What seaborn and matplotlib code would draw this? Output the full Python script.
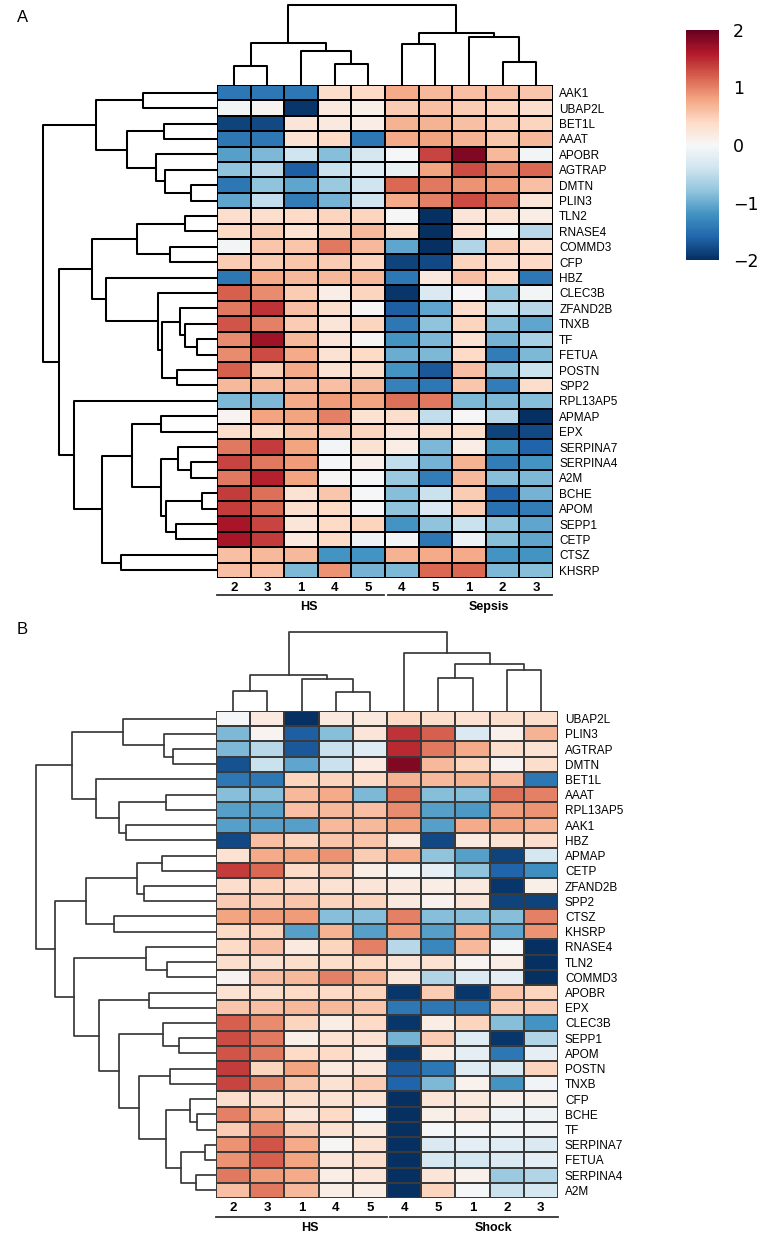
import numpy as np
import pandas as pd
import matplotlib
matplotlib.use('Agg')
import matplotlib.pyplot as plt
import matplotlib.transforms as mtransforms
import seaborn as sns

plt.rcParams['font.family'] = ['Liberation Sans', 'DejaVu Sans']

samples = ['2', '3', '1', '4', '5', '4', '5', '1', '2', '3']

genes_a = ['AAK1', 'UBAP2L', 'BET1L', 'AAAT', 'APOBR', 'AGTRAP', 'DMTN', 'PLIN3',
           'TLN2', 'RNASE4', 'COMMD3', 'CFP', 'HBZ', 'CLEC3B', 'ZFAND2B', 'TNXB',
           'TF', 'FETUA', 'POSTN', 'SPP2', 'RPL13AP5', 'APMAP', 'EPX', 'SERPINA7',
           'SERPINA4', 'A2M', 'BCHE', 'APOM', 'SEPP1', 'CETP', 'CTSZ', 'KHSRP']

z_a = [
    [-1.45, -1.45, -1.45, 0.35, 0.4, 0.75, 0.65, 0.6, 0.6, 0.55],
    [-0.05, 0.05, -1.95, 0.2, 0.12, 0.5, 0.6, 0.5, 0.45, 0.35],
    [-1.85, -1.8, 0.25, 0.2, 0.15, 0.7, 0.7, 0.6, 0.5, 0.45],
    [-1.45, -1.45, 0.3, 0.4, -1.45, 0.75, 0.8, 0.7, 0.55, 0.65],
    [-1.1, -0.9, -0.4, -0.85, -0.35, -0.02, 1.35, 1.85, 0.65, -0.05],
    [-0.8, -0.55, -1.65, -0.45, -0.25, -0.15, 0.8, 1.3, 0.95, 1.15],
    [-1.45, -0.8, -1.05, -0.75, -0.4, 1.15, 1.05, 0.9, 0.85, 0.6],
    [-1.05, -0.5, -1.4, -0.95, -0.4, 0.75, 1.0, 1.3, 1.05, 0.25],
    [0.35, 0.35, 0.4, 0.45, 0.45, 0.0, -2.0, 0.25, 0.3, 0.15],
    [0.4, 0.5, 0.3, 0.45, 0.65, 0.35, -2.0, 0.3, -0.05, -0.55],
    [-0.05, 0.55, 0.55, 1.05, 0.65, -1.05, -2.0, -0.6, 0.5, 0.35],
    [0.5, 0.5, 0.55, 0.5, 0.45, -1.85, -1.8, 0.45, 0.35, 0.4],
    [-1.45, 0.75, 0.65, 0.65, 0.65, -1.45, 0.2, 0.6, 0.4, -1.45],
    [1.2, 0.95, 0.5, 0.15, 0.45, -1.95, -0.3, 0.0, -0.8, -0.05],
    [1.05, 1.45, 0.6, 0.35, 0.02, -1.65, -1.05, 0.35, -0.5, -0.55],
    [1.25, 1.0, 0.5, 0.25, 0.45, -1.45, -0.8, 0.45, -0.85, -1.05],
    [0.95, 1.7, 0.65, 0.25, 0.03, -1.2, -0.9, 0.3, -0.95, -0.65],
    [0.95, 1.3, 0.75, 0.3, 0.4, -1.0, -0.9, 0.4, -1.4, -0.9],
    [1.2, 0.5, 0.75, 0.3, 0.35, -1.2, -1.7, 0.6, -0.8, -0.45],
    [0.65, 0.65, 0.65, 0.6, 0.65, -1.35, -1.45, 0.55, -1.4, 0.35],
    [-0.9, -0.9, 0.75, 0.85, 0.8, 1.1, 1.05, -0.9, -0.9, -0.85],
    [0.05, 0.8, 0.8, 1.0, 0.3, 0.35, -0.5, 0.0, -0.55, -2.0],
    [0.35, 0.4, 0.55, 0.5, 0.45, 0.25, 0.35, 0.35, -1.85, -1.8],
    [1.05, 1.4, 0.8, -0.05, 0.3, 0.15, -0.9, 0.15, -1.2, -1.6],
    [1.35, 1.05, 0.85, -0.02, 0.1, -0.5, -0.95, 0.7, -1.4, -1.2],
    [1.05, 1.55, 0.8, 0.02, -0.02, -0.75, -1.4, 0.65, -0.85, -0.9],
    [1.4, 1.1, 0.3, 0.55, -0.02, -0.85, -0.45, 0.5, -1.6, -0.95],
    [1.4, 1.15, 0.35, 0.4, 0.0, -0.8, -0.3, 0.5, -1.5, -1.4],
    [1.65, 1.35, 0.25, 0.4, 0.45, -1.2, -0.8, -0.45, -0.8, -1.05],
    [1.65, 1.4, 0.2, 0.4, -0.12, -0.05, -1.45, -0.1, -0.85, -1.05],
    [0.6, 0.65, 0.65, -1.2, -1.2, 0.7, 0.75, 0.75, -1.2, -1.2],
    [0.6, 0.6, -0.9, 0.9, -0.95, -0.9, 1.15, 1.15, -0.9, -0.85],
]

genes_b = ['UBAP2L', 'PLIN3', 'AGTRAP', 'DMTN', 'BET1L', 'AAAT', 'RPL13AP5', 'AAK1',
           'HBZ', 'APMAP', 'CETP', 'ZFAND2B', 'SPP2', 'CTSZ', 'KHSRP', 'RNASE4',
           'TLN2', 'COMMD3', 'APOBR', 'EPX', 'CLEC3B', 'SEPP1', 'APOM', 'POSTN',
           'TNXB', 'CFP', 'BCHE', 'TF', 'SERPINA7', 'FETUA', 'SERPINA4', 'A2M']

z_b = [
    [-0.03, 0.18, -2.0, 0.2, 0.2, 0.4, 0.35, 0.3, 0.35, 0.35],
    [-0.9, 0.05, -1.65, -0.85, 0.25, 1.45, 1.2, -0.3, 0.1, 0.7],
    [-0.9, -0.55, -1.7, -0.45, -0.25, 1.5, 1.05, 0.75, 0.35, 0.3],
    [-1.75, -0.45, -1.05, -0.45, 0.18, 1.85, 0.65, 0.45, 0.05, 0.35],
    [-1.45, -1.45, 0.45, 0.45, 0.4, 0.7, 0.65, 0.7, 0.65, -1.45],
    [-0.85, -0.85, 0.65, 0.75, -0.9, 1.1, -0.85, -0.85, 1.1, 1.0],
    [-1.1, -1.1, 0.6, 0.65, 0.6, 0.95, -1.1, -1.15, 0.85, 0.9],
    [-1.1, -1.1, -1.1, 0.65, 0.65, 0.8, -1.1, 0.75, 0.8, 0.7],
    [-1.8, 0.6, 0.45, 0.55, 0.55, 0.2, -1.8, 0.2, 0.3, 0.35],
    [0.3, 0.75, 0.8, 0.9, 0.5, 0.75, -0.8, -1.1, -1.85, -0.35],
    [1.4, 1.15, 0.4, 0.5, 0.15, 0.03, -0.2, -0.8, -1.6, -1.25],
    [0.35, 0.45, 0.35, 0.3, 0.25, 0.2, 0.15, 0.2, -1.95, 0.12],
    [0.5, 0.5, 0.55, 0.45, 0.45, 0.2, 0.08, 0.25, -1.85, -1.85],
    [0.8, 0.85, 0.85, -0.85, -0.85, 1.0, -0.85, -0.85, -0.85, 1.0],
    [0.4, 0.45, -1.1, 0.7, -1.1, 0.85, -1.1, 0.75, -1.05, 0.9],
    [0.4, 0.6, 0.2, 0.45, 1.0, -0.55, -1.3, 0.65, 0.0, -2.0],
    [0.35, 0.3, 0.35, 0.35, 0.4, 0.25, 0.3, 0.05, 0.15, -2.0],
    [0.05, 0.6, 0.65, 1.0, 0.7, 0.25, -0.6, -0.3, -0.2, -2.0],
    [0.3, 0.35, 0.4, 0.4, 0.45, -1.95, 0.5, -1.95, 0.55, 0.45],
    [0.55, 0.6, 0.65, 0.65, 0.55, -1.45, -1.45, -1.45, 0.5, 0.5],
    [1.2, 0.95, 0.45, 0.15, 0.4, -1.95, 0.15, 0.45, -0.85, -1.2],
    [1.3, 1.05, 0.12, 0.3, 0.3, -0.95, 0.5, -0.25, -1.95, -0.6],
    [1.25, 1.05, 0.4, 0.4, 0.15, -1.95, 0.15, -0.2, -1.45, -0.2],
    [1.4, 0.45, 0.8, 0.2, 0.25, -1.7, -1.45, -0.25, -0.3, 0.45],
    [1.35, 1.0, 0.55, 0.3, 0.5, -1.6, -0.9, 0.08, -1.2, -0.07],
    [0.35, 0.35, 0.35, 0.3, 0.3, -2.0, 0.25, 0.2, 0.1, 0.1],
    [1.0, 0.7, 0.25, 0.4, -0.02, -2.0, 0.12, 0.2, -0.1, -0.1],
    [0.5, 1.0, 0.5, 0.3, 0.2, -2.0, -0.03, -0.03, -0.05, -0.05],
    [0.9, 1.25, 0.75, 0.03, 0.3, -2.0, -0.3, -0.2, -0.25, -0.3],
    [0.9, 1.2, 0.8, 0.25, 0.35, -2.0, -0.35, -0.35, -0.3, -0.2],
    [1.05, 0.85, 0.75, 0.15, 0.25, -2.0, 0.25, 0.1, -0.75, -0.6],
    [0.6, 1.05, 0.65, 0.15, 0.15, -2.0, 0.45, -0.02, -0.45, -0.35],
]

# merges: (child a, child b, height); children >= n are earlier merges (n + k)
row_link_a = [(0, 1, 73.7), (2, 3, 52.7), (6, 7, 26.3), (5, 34, 52.3), (4, 35, 60.7),
              (33, 36, 90.0), (32, 37, 121.3), (8, 9, 31.7), (10, 11, 47.0), (39, 40, 80.3),
              (16, 17, 20.3), (15, 42, 32.0), (14, 43, 37.0), (18, 19, 40.3), (44, 45, 54.7),
              (13, 46, 59.0), (12, 47, 110.7), (41, 48, 125.0), (21, 22, 55.7), (24, 25, 25.7),
              (23, 51, 39.3), (26, 27, 14.7), (28, 29, 41.3), (53, 54, 51.0), (52, 55, 56.3),
              (50, 56, 85.3), (30, 31, 96.3), (57, 58, 115.3), (20, 59, 143.0), (49, 60, 158.0),
              (38, 61, 174.0)]
col_link_a = [(0, 1, 19.3), (3, 4, 20.7), (2, 11, 34.0), (10, 12, 42.3), (5, 6, 41.3),
              (8, 9, 23.3), (7, 15, 48.3), (14, 16, 51.7), (13, 17, 80.0)]

row_link_b = [(2, 3, 43.0), (1, 32, 52.0), (0, 33, 93.3), (5, 6, 50.3), (7, 8, 89.7),
              (35, 36, 97.3), (4, 37, 120.0), (34, 38, 143.3), (9, 10, 54.3), (11, 12, 71.7),
              (40, 41, 78.7), (13, 14, 102.0), (42, 43, 129.3), (16, 17, 49.3), (15, 45, 70.3),
              (18, 19, 66.7), (21, 22, 37.0), (20, 48, 52.7), (23, 24, 45.7), (26, 27, 18.7),
              (25, 51, 26.3), (28, 29, 11.3), (30, 31, 20.0), (53, 54, 34.7), (52, 55, 50.3),
              (50, 56, 76.7), (49, 57, 97.0), (47, 58, 116.7), (46, 59, 141.3), (44, 60, 160.7),
              (39, 61, 179.7)]
col_link_b = [(0, 1, 20.0), (3, 4, 18.7), (2, 11, 31.7), (10, 12, 36.0), (6, 7, 32.7),
              (8, 9, 40.7), (14, 15, 46.7), (5, 16, 58.7), (13, 17, 79.3)]

W, H = 782, 1239
fig = plt.figure(figsize=(W / 100, H / 100), dpi=100)


def px_axes(x0, y0, x1, y1):
    return fig.add_axes([x0 / W, 1 - y1 / H, (x1 - x0) / W, (y1 - y0) / H])


def draw_dendro(ax, links, n, orient, color, lw):
    pos = {i: i + 0.5 for i in range(n)}
    hgt = {i: 0.0 for i in range(n)}
    for k, (a, b, h) in enumerate(links):
        p = [pos[a], pos[a], pos[b], pos[b]]
        q = [hgt[a], h, h, hgt[b]]
        if orient == 'top':
            ax.plot(p, q, color=color, lw=lw, clip_on=False)
        else:
            ax.plot(q, p, color=color, lw=lw, clip_on=False)
        pos[n + k] = (pos[a] + pos[b]) / 2
        hgt[n + k] = h
    top = links[-1][2]
    if orient == 'top':
        ax.set_xlim(0, n)
        ax.set_ylim(0, top)
    else:
        ax.set_ylim(n, 0)
        ax.set_xlim(top, 0)
    ax.axis('off')


def panel(genes, z, row_link, col_link, hm, root_x, root_y, groups, line_y, text_y,
          lw, lc, cax=None, pad_y=4.5):
    x0, y0, x1, y1 = hm
    ax = px_axes(x0, y0, x1, y1)
    df = pd.DataFrame(z, index=genes)
    sns.heatmap(df, ax=ax, cmap='RdBu_r', vmin=-2, vmax=2, linewidths=lw, linecolor=lc,
                xticklabels=samples, yticklabels=genes, cbar=cax is not None, cbar_ax=cax,
                cbar_kws={'ticks': [-2, -1, 0, 1, 2]})
    ax.yaxis.tick_right()
    ax.tick_params(axis='y', length=0, pad=pad_y, labelsize=8.5, labelrotation=0)
    ax.tick_params(axis='x', length=0, pad=3, labelsize=9.5, labelrotation=0)
    for t in ax.get_xticklabels():
        t.set_fontweight('bold')
    trans = mtransforms.blended_transform_factory(ax.transData, ax.transAxes)
    for name, a, b, tx in groups:
        ax.plot([a, b], [line_y, line_y], color='#333333', lw=1.3, transform=trans, clip_on=False)
        ax.text(tx, text_y, name, transform=trans, ha='center', va='center',
                fontsize=9, fontweight='bold')

    rax = px_axes(root_x, y0, x0, y1)
    draw_dendro(rax, row_link, len(genes), 'left', lc, lw * 1.05)
    tax = px_axes(x0, root_y, x1, y0)
    draw_dendro(tax, col_link, len(samples), 'top', lc, lw * 1.05)
    return ax


cax = px_axes(686, 30, 719, 260)
panel(genes_a, z_a, row_link_a, col_link_a, (217, 85, 553, 578), 43, 5,
      [('HS', 0.0, 4.97, 2.74), ('Sepsis', 5.1, 9.97, 8.1)], -0.035, -0.058,
      1.4, 'black', cax=cax, pad_y=4.5)
cax.tick_params(length=0, labelsize=12.5, pad=10)
for t in cax.get_yticklabels():
    t.set_family('DejaVu Sans')

panel(genes_b, z_b, row_link_b, col_link_b, (216, 711, 558, 1198), 36, 632,
      [('HS', 0.0, 5.0, 2.75), ('Shock', 5.1, 10.0, 8.1)], -0.039, -0.061,
      1.2, '#3a3a3a', pad_y=5)

fig.text(17 / W, 1 - 18 / H, 'A', fontsize=12, va='center')
fig.text(17 / W, 1 - 630 / H, 'B', fontsize=12, va='center')

fig.savefig('out.png', dpi=100)
